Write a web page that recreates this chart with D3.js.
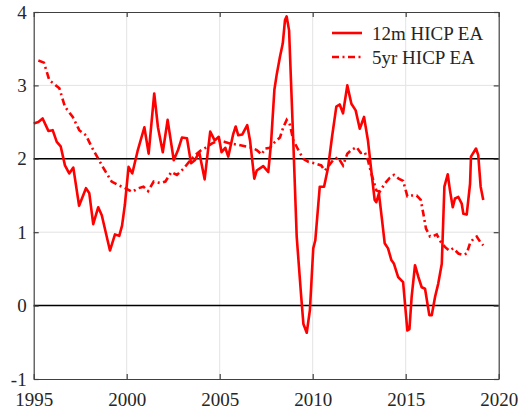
<!DOCTYPE html>
<html>
<head>
<meta charset="utf-8">
<script src="https://cdn.jsdelivr.net/npm/d3@7"></script>
<style>
  body { margin: 0; background: #fff; }
</style>
</head>
<body>
<div id="plot"></div>
<script>
// 12-month HICP inflation, euro area (time in decimal years)
const t12m = [1995.0,1995.25,1995.48,1995.79,1996.02,1996.24,1996.45,1996.68,1996.91,1997.13,1997.44,1997.81,1997.99,1998.2,1998.47,1998.66,1999.1,1999.37,1999.6,1999.75,1999.9,2000.1,2000.3,2000.58,2000.95,2001.18,2001.48,2001.68,2001.94,2002.2,2002.53,2002.76,2002.97,2003.24,2003.46,2003.66,2003.9,2004.19,2004.49,2004.73,2004.95,2005.1,2005.3,2005.46,2005.73,2005.86,2006.0,2006.21,2006.48,2006.63,2006.86,2006.99,2007.34,2007.61,2007.76,2007.94,2008.06,2008.24,2008.39,2008.51,2008.6,2008.73,2008.96,2009.14,2009.37,2009.5,2009.68,2009.85,2010.03,2010.14,2010.38,2010.61,2010.82,2011.04,2011.27,2011.45,2011.63,2011.86,2012.08,2012.31,2012.53,2012.76,2012.97,2013.15,2013.33,2013.42,2013.56,2013.73,2013.87,2014.05,2014.23,2014.37,2014.59,2014.86,2015.09,2015.2,2015.32,2015.5,2015.68,2015.86,2016.04,2016.27,2016.4,2016.58,2016.75,2016.94,2017.08,2017.26,2017.38,2017.53,2017.65,2017.83,2018.01,2018.1,2018.28,2018.46,2018.51,2018.78,2018.9,2019.03,2019.17];
const v12m = [2.48,2.5,2.55,2.38,2.39,2.23,2.17,1.91,1.80,1.88,1.36,1.60,1.53,1.11,1.34,1.23,0.75,0.97,0.95,1.09,1.37,1.89,1.80,2.1,2.43,2.07,2.89,2.43,2.09,2.53,1.98,2.12,2.29,2.28,1.94,1.98,2.09,1.72,2.37,2.25,2.30,2.09,2.15,2.03,2.34,2.44,2.32,2.33,2.46,2.25,1.73,1.84,1.90,1.82,2.21,2.94,3.14,3.39,3.57,3.89,3.94,3.75,2.21,0.94,0.16,-0.25,-0.37,-0.06,0.78,0.89,1.62,1.62,1.87,2.30,2.71,2.74,2.62,3.00,2.75,2.66,2.41,2.57,2.25,1.84,1.44,1.41,1.53,1.16,0.85,0.78,0.62,0.57,0.39,0.32,-0.34,-0.32,0.12,0.55,0.39,0.25,0.23,-0.13,-0.13,0.12,0.30,0.57,1.62,1.79,1.57,1.34,1.46,1.48,1.39,1.25,1.24,1.66,2.03,2.14,2.05,1.62,1.44];

// 5-year average HICP inflation, euro area
const t5yr = [1995.25,1995.55,1995.84,1996.05,1996.38,1996.68,1997.1,1997.45,1997.81,1998.12,1998.47,1998.83,1999.19,1999.55,1999.85,2000.28,2000.64,2000.9,2001.15,2001.45,2001.81,2002.08,2002.4,2002.7,2003.07,2003.42,2003.69,2003.96,2004.23,2004.59,2004.95,2005.28,2005.55,2006.0,2006.36,2006.72,2006.99,2007.26,2007.44,2007.7,2007.97,2008.24,2008.42,2008.6,2008.78,2008.96,2009.23,2009.49,2009.76,2010.09,2010.46,2010.65,2010.82,2011.09,2011.36,2011.63,2011.86,2012.08,2012.35,2012.58,2012.8,2012.97,2013.15,2013.42,2013.6,2013.87,2014.14,2014.37,2014.62,2014.86,2015.09,2015.32,2015.59,2015.81,2015.95,2016.09,2016.31,2016.5,2016.67,2016.88,2017.11,2017.34,2017.56,2017.83,2018.1,2018.28,2018.46,2018.64,2018.82,2019.0,2019.17];
const v5yr = [3.34,3.31,3.07,3.03,2.96,2.71,2.57,2.39,2.32,2.16,2.0,1.84,1.69,1.64,1.61,1.55,1.60,1.62,1.56,1.69,1.67,1.69,1.82,1.78,1.87,1.98,2.05,2.11,2.15,2.21,2.25,2.23,2.21,2.19,2.17,2.15,2.12,2.06,2.14,2.15,2.23,2.29,2.43,2.53,2.46,2.25,2.12,2.0,1.96,1.94,1.91,1.84,1.89,1.98,2.02,1.91,2.07,2.12,2.16,2.08,2.09,1.98,1.80,1.57,1.55,1.66,1.74,1.78,1.73,1.70,1.49,1.50,1.50,1.44,1.25,1.05,0.94,0.95,0.97,0.87,0.80,0.75,0.78,0.71,0.69,0.71,0.85,0.91,0.94,0.87,0.82];

const xTicks = [1995, 2000, 2005, 2010, 2015, 2020];
const yTicks = [-1, 0, 1, 2, 3, 4];
const refLines = [0, 2];
const seriesNames = ["12m HICP EA", "5yr HICP EA"];

const width = 521, height = 410;
const margin = { top: 12, right: 22.3, bottom: 31, left: 33.7 };
const fontFamily = "'Liberation Serif', 'Times New Roman', Times, 'DejaVu Serif', serif";

const svg = d3.select("#plot").append("svg")
  .attr("width", width)
  .attr("height", height)
  .attr("font-family", fontFamily);

const x = d3.scaleLinear().domain([1995, 2020]).range([margin.left, width - margin.right]);
const y = d3.scaleLinear().domain([-1, 4]).range([height - margin.bottom, margin.top]);

// grid
svg.append("g").selectAll("line").data(xTicks.slice(1, -1)).enter().append("line")
  .attr("x1", d => x(d)).attr("x2", d => x(d))
  .attr("y1", y(-1)).attr("y2", y(4))
  .attr("stroke", "#e3e3e3").attr("stroke-width", 1);
svg.append("g").selectAll("line").data(yTicks.slice(1, -1)).enter().append("line")
  .attr("x1", x(1995)).attr("x2", x(2020))
  .attr("y1", d => y(d)).attr("y2", d => y(d))
  .attr("stroke", "#e3e3e3").attr("stroke-width", 1);

// reference lines at 0 and 2
svg.append("g").selectAll("line").data(refLines).enter().append("line")
  .attr("x1", x(1995)).attr("x2", x(2020))
  .attr("y1", d => y(d)).attr("y2", d => y(d))
  .attr("stroke", "#000").attr("stroke-width", 1.5);

// series
const line = d3.line().x(d => x(d[0])).y(d => y(d[1]));
svg.append("path")
  .datum(d3.zip(t12m, v12m))
  .attr("fill", "none").attr("stroke", "#ff0000").attr("stroke-width", 2.6)
  .attr("stroke-linejoin", "round")
  .attr("d", line);
svg.append("path")
  .datum(d3.zip(t5yr, v5yr))
  .attr("fill", "none").attr("stroke", "#ff0000").attr("stroke-width", 2.6)
  .attr("stroke-dasharray", "7,3.5,2,3.5")
  .attr("d", line);

// axes (ticks inside, box all round)
const axisColor = "#404040";
function styleAxis(g) {
  g.attr("font-family", fontFamily).attr("font-size", 19);
  g.select(".domain").attr("stroke", axisColor).attr("stroke-width", 1.2);
  g.selectAll(".tick line").attr("stroke", axisColor).attr("stroke-width", 1.2);
  g.selectAll("text").attr("fill", "#262626");
}
svg.append("g")
  .attr("transform", `translate(0,${y(-1)})`)
  .call(d3.axisBottom(x).tickValues(xTicks).tickFormat(d => String(d)).tickSize(-5).tickSizeOuter(0).tickPadding(14))
  .call(styleAxis);
svg.append("g")
  .attr("transform", `translate(0,${y(4)})`)
  .call(d3.axisTop(x).tickValues(xTicks).tickFormat("").tickSize(-5).tickSizeOuter(0))
  .call(styleAxis);
svg.append("g")
  .attr("transform", `translate(${x(1995)},0)`)
  .call(d3.axisLeft(y).tickValues(yTicks).tickFormat(d => String(d)).tickSize(-5).tickSizeOuter(0).tickPadding(7))
  .call(styleAxis);
svg.append("g")
  .attr("transform", `translate(${x(2020)},0)`)
  .call(d3.axisRight(y).tickValues(yTicks).tickFormat("").tickSize(-5).tickSizeOuter(0))
  .call(styleAxis);

// legend
const legend = svg.append("g").attr("transform", "translate(332,33)");
seriesNames.forEach((name, i) => {
  legend.append("line")
    .attr("x1", 0).attr("x2", 30)
    .attr("y1", i * 24).attr("y2", i * 24)
    .attr("stroke", "#ff0000").attr("stroke-width", 2.6)
    .attr("stroke-dasharray", i === 1 ? "7,3.5,2,3.5" : null);
  legend.append("text")
    .attr("x", 40).attr("y", i * 24 + 7)
    .attr("font-size", 19)
    .attr("fill", "#262626")
    .text(name);
});
</script>
</body>
</html>
